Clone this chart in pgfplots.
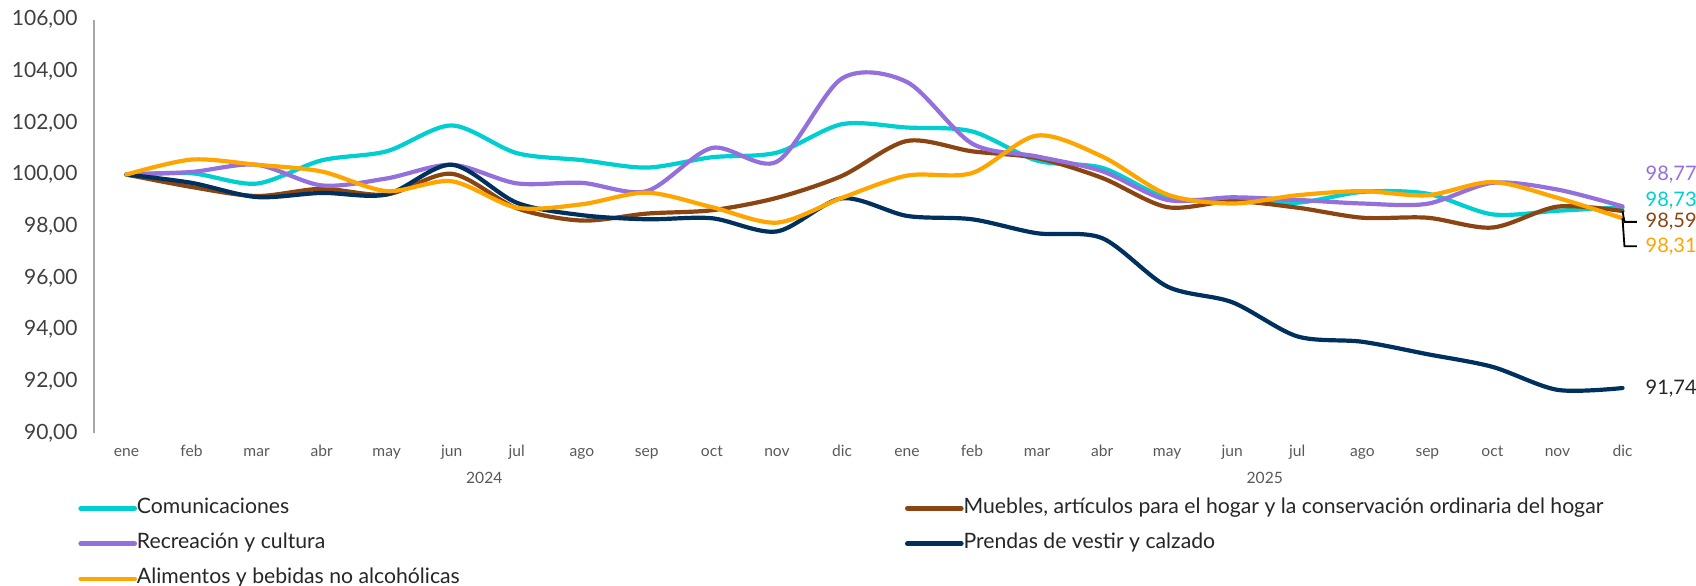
\documentclass[border=0pt]{standalone}
\usepackage{fontspec}
\setmainfont{Lato}
\usepackage{pgfplots}
\pgfplotsset{compat=1.18}
\definecolor{cyanC}{HTML}{00CED1}
\definecolor{purpleC}{HTML}{9370DB}
\definecolor{brownC}{HTML}{8B4513}
\definecolor{navyC}{HTML}{00305E}
\definecolor{orangeC}{HTML}{FFA500}
\definecolor{axisgray}{HTML}{A6A6A6}
\definecolor{ygray}{HTML}{404040}
\definecolor{xgray}{HTML}{595959}
\definecolor{legtext}{HTML}{262626}
\begin{document}
\begin{tikzpicture}
\useasboundingbox (0,0) rectangle (848pt,292.5pt);
\begin{axis}[
  at={(47pt,76pt)}, anchor=south west,
  scale only axis, width=780.5pt, height=206.75pt,
  xmin=-0.5, xmax=23.5, ymin=90, ymax=106,
  axis lines*=left,
  x axis line style={draw=none},
  y axis line style={draw=axisgray, line width=1pt},
  major tick length=0pt,
  xtick={0,...,23},
  xticklabels={ene,feb,mar,abr,may,jun,jul,ago,sep,oct,nov,dic,ene,feb,mar,abr,may,jun,jul,ago,sep,oct,nov,dic},
  xticklabel style={font=\fontsize{7.8}{9}\selectfont, text=xgray, anchor=base, inner sep=0pt, yshift=-11.6pt},
  ytick={90,92,...,106},
  yticklabel style={font=\fontsize{10.5}{12}\selectfont, text=ygray, anchor=east, inner sep=0pt, xshift=-8pt,
    /pgf/number format/.cd, fixed, fixed zerofill, precision=2, use comma, assume math mode=true},
  clip=false,
  every axis plot/.append style={line width=2.1pt, smooth, line cap=round},
  legend columns=2,
  legend image code/.code={\draw[#1, line width=2.3pt] (0pt,0pt) -- (27pt,0pt);},
  legend style={at={(0,0)}, anchor=north west, xshift=-8pt, yshift=-32.5pt,
    draw=none, fill=none, inner sep=0pt, column sep=0pt, row sep=7.6pt,
    font=\fontsize{10.6}{12}\selectfont, text=legtext,
    nodes={inner sep=0pt, text height=7.5pt, text depth=2.5pt}},
  legend cell align=left,
]
\addplot[cyanC] coordinates {
(0,100.00) (1,100.05) (2,99.65) (3,100.55) (4,100.90) (5,101.90) (6,100.83) (7,100.56) (8,100.27) (9,100.67) (10,100.85) (11,101.95)
(12,101.82) (13,101.67) (14,100.54) (15,100.26) (16,99.10) (17,99.04) (18,98.91) (19,99.33) (20,99.26) (21,98.46) (22,98.60) (23,98.73)};
\addlegendentry{\makebox[384pt][l]{Comunicaciones}}
\addplot[brownC] coordinates {
(0,100.00) (1,99.52) (2,99.17) (3,99.45) (4,99.23) (5,100.03) (6,98.70) (7,98.22) (8,98.49) (9,98.62) (10,99.10) (11,99.95)
(12,101.30) (13,100.90) (14,100.64) (15,99.87) (16,98.74) (17,98.97) (18,98.72) (19,98.33) (20,98.33) (21,97.95) (22,98.76) (23,98.59)};
\addlegendentry{Muebles, artículos para el hogar y la conservación ordinaria del hogar}
\addplot[purpleC] coordinates {
(0,100.00) (1,100.10) (2,100.38) (3,99.58) (4,99.85) (5,100.38) (6,99.66) (7,99.68) (8,99.36) (9,101.03) (10,100.50) (11,103.72)
(12,103.58) (13,101.20) (14,100.70) (15,100.13) (16,99.02) (17,99.12) (18,99.02) (19,98.88) (20,98.87) (21,99.68) (22,99.42) (23,98.77)};
\addlegendentry{\makebox[384pt][l]{Recreación y cultura}}
\addplot[navyC] coordinates {
(0,100.00) (1,99.68) (2,99.13) (3,99.29) (4,99.23) (5,100.38) (6,98.91) (7,98.43) (8,98.27) (9,98.31) (10,97.80) (11,99.08)
(12,98.40) (13,98.27) (14,97.73) (15,97.54) (16,95.67) (17,95.06) (18,93.74) (19,93.53) (20,93.05) (21,92.56) (22,91.67) (23,91.74)};
\addlegendentry{Prendas de vestir y calzado}
\addplot[orangeC] coordinates {
(0,100.00) (1,100.58) (2,100.38) (3,100.12) (4,99.36) (5,99.74) (6,98.72) (7,98.85) (8,99.30) (9,98.74) (10,98.14) (11,99.10)
(12,99.96) (13,100.06) (14,101.51) (15,100.70) (16,99.23) (17,98.88) (18,99.20) (19,99.36) (20,99.20) (21,99.71) (22,99.10) (23,98.31)};
\addlegendentry{\makebox[384pt][l]{Alimentos y bebidas no alcohólicas}}
\node[font=\fontsize{7.8}{9}\selectfont, text=xgray, yshift=-22.5pt] at (axis cs:5.5,90) {2024};
\node[font=\fontsize{7.8}{9}\selectfont, text=xgray, yshift=-22.5pt] at (axis cs:17.5,90) {2025};
\draw[black, line width=0.9pt] (axis cs:23,98.59) -- (axis cs:23.03,98.17) -- (axis cs:23.22,98.17);
\draw[black, line width=0.9pt] (axis cs:23,98.31) -- (axis cs:23.03,97.23) -- (axis cs:23.22,97.23);
\node[anchor=west, inner sep=0pt, font=\fontsize{10}{12}\selectfont, text=purpleC] at (axis cs:23.35,100.00) {98,77};
\node[anchor=west, inner sep=0pt, font=\fontsize{10}{12}\selectfont, text=cyanC] at (axis cs:23.35,99.00) {98,73};
\node[anchor=west, inner sep=0pt, font=\fontsize{10}{12}\selectfont, text=brownC] at (axis cs:23.35,98.17) {98,59};
\node[anchor=west, inner sep=0pt, font=\fontsize{10}{12}\selectfont, text=orangeC] at (axis cs:23.35,97.23) {98,31};
\node[anchor=west, inner sep=0pt, font=\fontsize{10}{12}\selectfont, text=legtext] at (axis cs:23.35,91.70) {91,74};
\end{axis}
\end{tikzpicture}
\end{document}
